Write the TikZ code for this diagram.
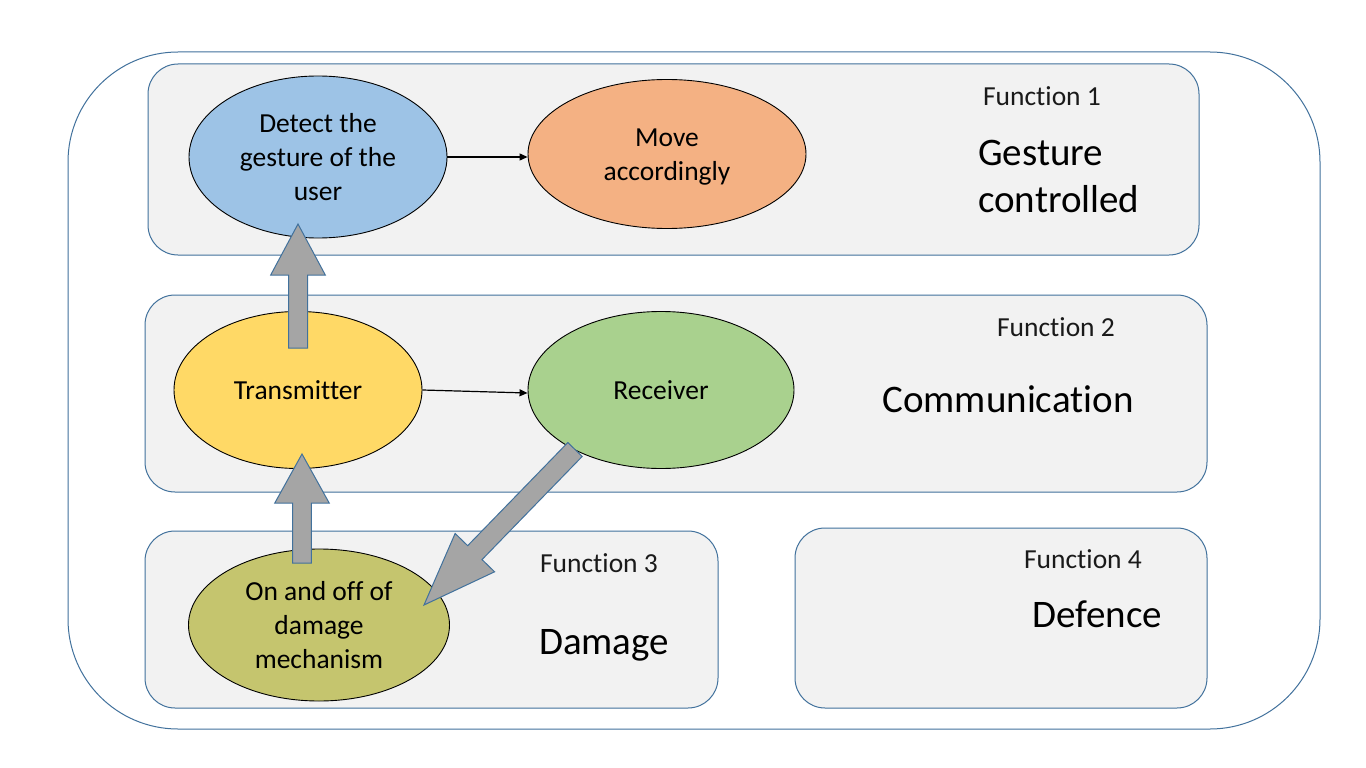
\documentclass[tikz,border=0pt]{standalone}
\usepackage{fontspec}
\setmainfont{Carlito}[Ligatures=NoCommon]
\usetikzlibrary{shapes.geometric,arrows.meta,calc}
\definecolor{bordc}{HTML}{41719C}
\definecolor{boxc}{HTML}{F2F2F2}
\definecolor{detc}{HTML}{9DC3E6}
\definecolor{movc}{HTML}{F4B183}
\definecolor{trac}{HTML}{FFD966}
\definecolor{recc}{HTML}{A9D18E}
\definecolor{onoc}{HTML}{C5C56E}
\definecolor{arrc}{HTML}{A5A5A5}
\definecolor{txtc}{HTML}{1A1A1A}
\newcommand\blkarrow[5]{%
  \coordinate (ba-b) at ($(#2)!#3!(#1)$);
  \draw[blockstyle] ($(#1)!#4!90:(#2)$) -- ($(ba-b)!#4!90:(#2)$) -- ($(ba-b)!#5!90:(#2)$) -- (#2)
    -- ($(ba-b)!#5!-90:(#2)$) -- ($(ba-b)!#4!-90:(#2)$) -- ($(#1)!#4!-90:(#2)$) -- cycle;}
\tikzset{
  outerbox/.style={draw=bordc, line width=1pt, fill=white, rounded corners=110pt},
  funcbox/.style={draw=bordc, line width=1pt, fill=boxc, rounded corners=30pt},
  bubble/.style={ellipse, draw=black, line width=0.9pt, inner sep=0pt, align=center,
    font=\fontsize{27.5}{34}\selectfont, text=black},
  bubbletext/.style={inner sep=0pt, align=center, font=\fontsize{27.5}{34}\selectfont, text=black},
  smalllab/.style={anchor=base, font=\fontsize{27.5}{34}\selectfont, text=txtc, inner sep=0pt},
  biglab/.style={font=\fontsize{39}{47}\selectfont, text=black, inner sep=0pt},
  thinarrow/.style={draw=black, line width=1.2pt, -{Triangle[length=8pt,width=7pt]}},
  blockstyle/.style={draw=bordc, line width=1pt, fill=arrc, line join=miter},
}
\begin{document}
\begin{tikzpicture}[x=1pt,y=-1pt]
\useasboundingbox (0,0) rectangle (1366,768);
\fill[white] (0,0) rectangle (1366,768);
% outer frame
\draw[outerbox] (68,52) rectangle (1320,729);
% function boxes
\draw[funcbox] (148,64) rectangle (1199,255);
\draw[funcbox] (145,295) rectangle (1207,492);
\draw[funcbox] (145,531) rectangle (718,708);
\draw[funcbox] (795,528) rectangle (1207,708);
% ellipses
\node[bubble, fill=detc, minimum width=258pt, minimum height=162pt] (detect) at (318,157) {Detect the\\gesture of the\\user};
\node[bubble, fill=movc, minimum width=278pt, minimum height=149pt] (move) at (667,154) {};
\node[bubbletext] (movetxt) at (667,157) {Move\\accordingly};
\node[bubble, fill=trac, minimum width=248pt, minimum height=157pt] (trans) at (298,390) {Transmitter};
\node[bubble, fill=recc, minimum width=266pt, minimum height=157pt] (recv) at (661,390) {Receiver};
\node[bubble, fill=onoc, minimum width=261pt, minimum height=152pt] (onoff) at (319,625) {On and off of\\damage\\mechanism};
% thin connectors
\draw[thinarrow] (detect.east) -- (detect.east -| move.west);
\draw[thinarrow] (trans.east) -- ($(recv.west)+(0,3)$);
% block arrows
\coordinate (a1t) at (298,348);
\coordinate (a1h) at (298,224);
\coordinate (a2t) at (302,563);
\coordinate (a2h) at (302,454);
\coordinate (a3t) at (575,449.5);
\coordinate (a3h) at (424,605);
\blkarrow{a1t}{a1h}{51pt}{9.5pt}{27.3pt}
\blkarrow{a2t}{a2h}{49pt}{9.3pt}{27.2pt}
\blkarrow{a3t}{a3h}{73pt}{10pt}{27.5pt}
% labels
\node[smalllab] (f1) at (1042,105) {Function 1};
\node[biglab, anchor=west, align=left] (g1) at (978,176) {Gesture\\controlled};
\node[smalllab] (f2) at (1056,336) {Function 2};
\node[biglab, anchor=base] (g2) at (1008,412) {Communication};
\node[smalllab] (f3) at (599,572) {Function 3};
\node[biglab, anchor=base] (g3) at (604,654) {Damage};
\node[smalllab] (f4) at (1083,568) {Function 4};
\node[biglab, anchor=base] (g4) at (1097,627) {Defence};
\end{tikzpicture}
\end{document}
